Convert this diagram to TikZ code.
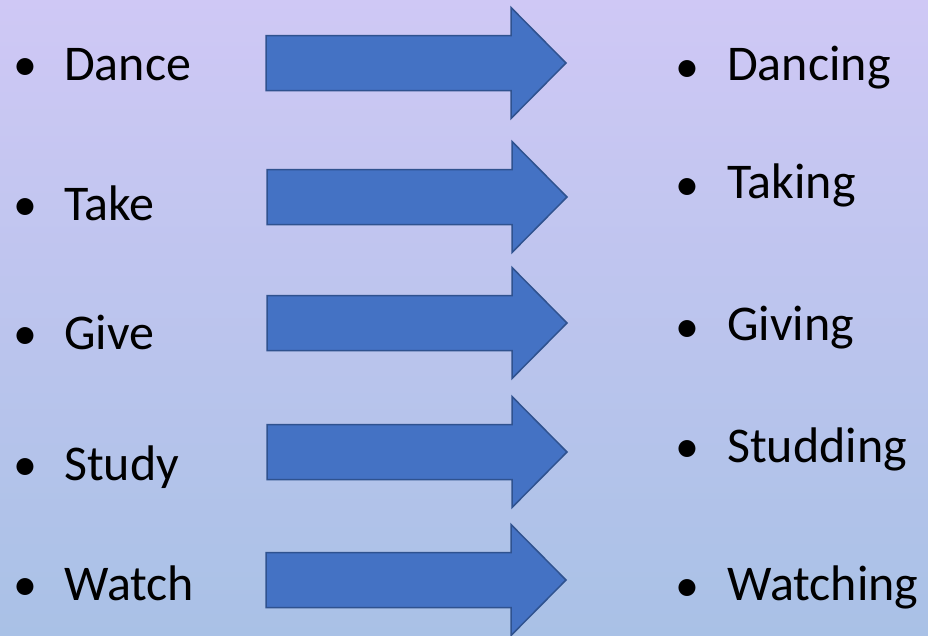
\documentclass[tikz,border=0pt]{standalone}
\usepackage{fontspec}
\setmainfont{Carlito}
\definecolor{bgtop}{RGB}{207,200,245}
\definecolor{bgbot}{RGB}{169,193,230}
\definecolor{arrowfill}{RGB}{68,114,196}
\definecolor{arrowline}{RGB}{47,82,143}
\begin{document}
\begin{tikzpicture}[x=1pt,y=-1pt,
  word/.style={anchor=base west,inner sep=0pt,font=\fontsize{50}{60}\selectfont,text=black},
  dot/.style={anchor=base,inner sep=0pt,font=\fontsize{48}{58}\selectfont,text=black},
  blockarrow/.style={fill=arrowfill,draw=arrowline,line width=1.5pt,line join=miter},
  bigarrow/.pic={
    \path[blockarrow] (0,-27.5) -- (245,-27.5) -- (245,-55.5) -- (300,0)
      -- (245,55.5) -- (245,27.5) -- (0,27.5) -- cycle;
  }]
\useasboundingbox (0,0) rectangle (928,635);
\shade[top color=bgtop,bottom color=bgbot] (0,0) rectangle (928,635);
% arrows
\pic at (266,63) {bigarrow};
\pic at (267,197) {bigarrow};
\pic at (267,323) {bigarrow};
\pic at (267,452) {bigarrow};
\pic at (266,580) {bigarrow};
% left column
\node[dot] (lb1) at (25,80) {•};
\node[word] (l1) at (64,80) {Dance};
\node[dot] (lb2) at (25,220) {•};
\node[word] (l2) at (64,220) {Take};
\node[dot] (lb3) at (25,349) {•};
\node[word] (l3) at (64,349) {Give};
\node[dot] (lb4) at (25,480) {•};
\node[word] (l4) at (64,480) {Study};
\node[dot] (lb5) at (25,600) {•};
\node[word] (l5) at (64,600) {Watch};
% right column
\node[dot] (rb1) at (687,82) {•};
\node[word] (r1) at (727,80) {Dancing};
\node[dot] (rb2) at (687,200) {•};
\node[word] (r2) at (727,198) {Taking};
\node[dot] (rb3) at (687,342) {•};
\node[word] (r3) at (727,340) {Giving};
\node[dot] (rb4) at (687,462) {•};
\node[word] (r4) at (727,462) {Studding};
\node[dot] (rb5) at (687,601) {•};
\node[word] (r5) at (727,600) {Watching};
\end{tikzpicture}
\end{document}
